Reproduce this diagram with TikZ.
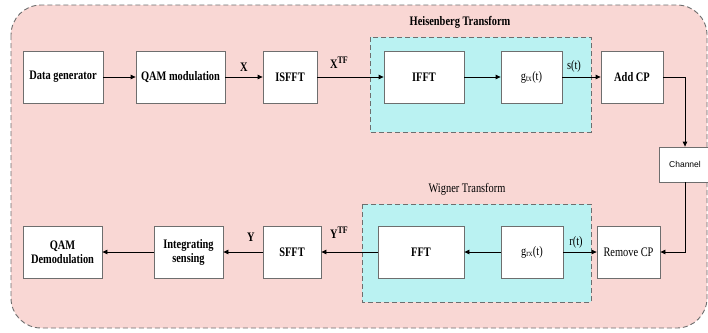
\documentclass[tikz,border=0pt]{standalone}
\usepackage{fontspec}
\setmainfont[FakeStretch=0.8]{Liberation Serif}
\newfontfamily\chanfont{Liberation Sans}
\usepackage{xcolor}
\usepackage{tikz}
\usetikzlibrary{arrows.meta}
\definecolor{outerpink}{RGB}{249,215,212}
\definecolor{innercyan}{RGB}{186,242,242}
\definecolor{edgegrey}{RGB}{110,110,110}
\newcommand{\tfup}[1]{#1\raisebox{5pt}{\fontsize{10}{11}\selectfont TF}}
\tikzset{blockbox/.style={draw=edgegrey, fill=white, line width=0.8pt, minimum height=52pt, align=center, font=\fontsize{13}{14}\selectfont\bfseries, inner sep=2pt}}
\tikzset{sigtext/.style={font=\fontsize{13}{14}\selectfont\bfseries}}
\tikzset{lighttext/.style={font=\fontsize{13}{14}\selectfont}}
\tikzset{flow/.style={-{Triangle[length=5pt,width=4.5pt]}, line width=0.8pt}}

\begin{document}
\begin{tikzpicture}[x=1pt, y=-1pt]
    \useasboundingbox (0,0) rectangle (708,332);
    \draw[fill=outerpink, draw=edgegrey, dash pattern=on 5pt off 3pt, line width=0.9pt, rounded corners=30pt] (11,5) rectangle (707,328);
    \draw[fill=innercyan, draw=edgegrey, dash pattern=on 5pt off 3pt, line width=0.9pt] (370,37) rectangle (591,132);
    \draw[fill=innercyan, draw=edgegrey, dash pattern=on 5pt off 3pt, line width=0.9pt] (362,204) rectangle (591,302);
    \node[sigtext] (HT) at (460,22)   {Heisenberg Transform};
    \node[lighttext] (WT) at (467,189)   {Wigner Transform};

    \node[blockbox, minimum width=80pt] (DG) at (63,77)     {Data generator};
    \node[blockbox, minimum width=89pt] (QM) at (180.5,77)  {QAM modulation};
    \node[blockbox, minimum width=54pt] (IS) at (290,77)    {ISFFT};
    \node[blockbox, minimum width=80pt] (IF) at (424,77)    {IFFT};
    \node[blockbox, minimum width=61pt, lighttext] (GT) at (531.5,77)  {g\textsubscript{tx}(t)};
    \node[blockbox, minimum width=62pt] (AC) at (632,77)    {Add CP};
    \node[blockbox, minimum width=52pt, minimum height=35pt, font=\chanfont\fontsize{8.5}{9}\selectfont] (CH) at (685,164.5) {Channel};

    \node[blockbox, minimum width=79pt] (QD) at (62.5,252)  {QAM\\Demodulation};
    \node[blockbox, minimum width=69pt] (IG) at (188.5,252) {Integrating\\sensing};
    \node[blockbox, minimum width=58pt] (SF) at (292,252)   {SFFT};
    \node[blockbox, minimum width=86pt] (FF) at (421,252)   {FFT};
    \node[blockbox, minimum width=62pt, lighttext] (GR) at (532,252)   {g\textsubscript{rx}(t)};
    \node[blockbox, minimum width=63pt, lighttext] (RC) at (628.5,252) {Remove CP};

    \node[sigtext] (X) at (244,67)      {X};
    \node[sigtext] (XTF) at (339,63)    {\tfup{X}};
    \node[lighttext] (ST) at (574,66)     {s(t)};
    \node[sigtext] (Y) at (251,237)     {Y};
    \node[sigtext] (YTF) at (339,233)   {\tfup{Y}};
    \node[lighttext] (RT) at (576,242)    {r(t)};

    \draw[flow] (DG) -- (QM);
    \draw[flow] (QM) -- (IS);
    \draw[flow] (IS) -- (IF);
    \draw[flow] (IF) -- (GT);
    \draw[flow] (GT) -- (AC);
    \draw[flow] (AC.east) -| (CH.north);
    \draw[flow] (CH.south) |- (RC.east);
    \draw[flow] (GR) -- (RC);
    \draw[flow] (GR) -- (FF);
    \draw[flow] (FF) -- (SF);
    \draw[flow] (SF) -- (IG);
    \draw[flow] (IG) -- (QD);

\end{tikzpicture}
\end{document}
